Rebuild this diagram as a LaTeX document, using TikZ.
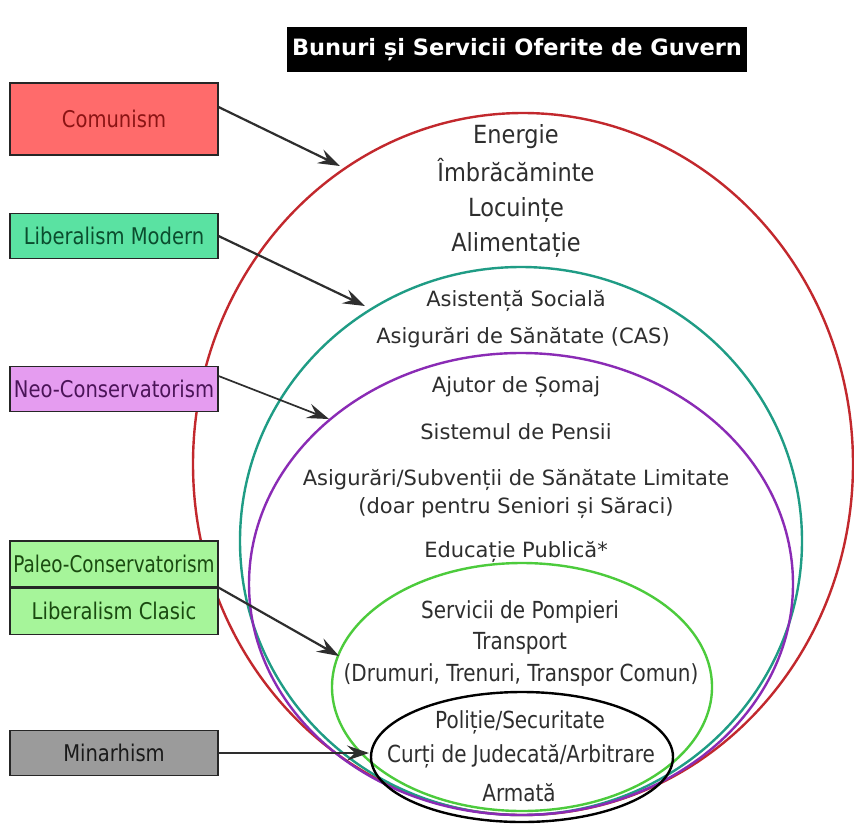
\documentclass[tikz,border=0pt]{standalone}
\usepackage{fontspec}
\setmainfont{DejaVu Sans}
\newfontfamily\condfont{DejaVu Sans}[FakeStretch=0.85]
\newfontfamily\semicondfont{DejaVu Sans}[FakeStretch=0.9]
\usetikzlibrary{arrows.meta}
\definecolor{redfill}{HTML}{FF6B6B}
\definecolor{redtext}{HTML}{8B1414}
\definecolor{tealfill}{HTML}{5AE2A2}
\definecolor{tealtext}{HTML}{0B4D2E}
\definecolor{violetfill}{HTML}{E59CF0}
\definecolor{violettext}{HTML}{4B1458}
\definecolor{greenfill}{HTML}{A6F59A}
\definecolor{greentext}{HTML}{1A4A10}
\definecolor{grayfill}{HTML}{9B9B9B}
\definecolor{graytext}{HTML}{1A1A1A}
\definecolor{ered}{HTML}{C2282D}
\definecolor{eteal}{HTML}{1F9C85}
\definecolor{epurple}{HTML}{8A2BB5}
\definecolor{egreen}{HTML}{4CCB3C}
\definecolor{arrowgray}{HTML}{2E2E2E}
\tikzset{
  labelbox/.style={draw=black!85, line width=1.1pt, minimum width=208pt, minimum height=45pt, inner sep=0pt, font=\condfont\fontsize{23}{26}\selectfont},
  pointer/.style={draw=arrowgray, line width=2.2pt, -{Stealth[length=22pt,width=15pt,inset=8pt]}},
  ring/.style={line width=2.4pt},
  bigtxt/.style={font=\semicondfont\fontsize{25}{28}\selectfont, text=black!82, inner sep=0pt, anchor=base},
  midtxt/.style={font=\fontsize{21}{25}\selectfont, text=black!82, inner sep=0pt, anchor=base},
  lowtxt/.style={font=\condfont\fontsize{23.5}{27}\selectfont, text=black!82, inner sep=0pt, anchor=base},
}
\begin{document}
\begin{tikzpicture}[x=1pt,y=-1pt]
\useasboundingbox (0,0) rectangle (854,823);
\fill[white] (0,0) rectangle (854,823);

% title
\node[fill=black, minimum width=460pt, minimum height=45pt, inner sep=0pt, text=white,
      font=\bfseries\fontsize{22.5}{26}\selectfont] (title) at (517,49.5) {Bunuri și Servicii Oferite de Guvern};

% ellipses
\draw[ered, ring] (523,464) ellipse [x radius=330, y radius=351];
\draw[eteal, ring] (521,541) ellipse [x radius=281, y radius=274];
\draw[epurple, ring] (521,584) ellipse [x radius=272, y radius=231];
\draw[egreen, ring] (522,687) ellipse [x radius=190, y radius=124];
\draw[black, ring] (522,757) ellipse [x radius=151, y radius=65];

% texts
\node[bigtxt] (t1) at (516,143) {Energie};
\node[bigtxt] (t2) at (516,181) {Îmbrăcăminte};
\node[bigtxt] (t3) at (516,216) {Locuințe};
\node[bigtxt] (t4) at (516,251) {Alimentație};
\node[midtxt] (t5) at (516,306) {Asistență Socială};
\node[midtxt] (t6) at (523,343) {Asigurări de Sănătate (CAS)};
\node[midtxt] (t7) at (516,392) {Ajutor de Șomaj};
\node[midtxt] (t8) at (516,439) {Sistemul de Pensii};
\node[midtxt] (t9) at (516,485) {Asigurări/Subvenții de Sănătate Limitate};
\node[midtxt] (t10) at (516,513) {(doar pentru Seniori și Săraci)};
\node[midtxt] (t11) at (516,557) {Educație Publică*};
\node[lowtxt] (t12) at (520,618) {Servicii de Pompieri};
\node[lowtxt] (t13) at (520,649) {Transport};
\node[lowtxt] (t14) at (521,681) {(Drumuri, Trenuri, Transpor Comun)};
\node[lowtxt] (t15) at (520,728) {Poliție/Securitate};
\node[lowtxt] (t16) at (521,762) {Curți de Judecată/Arbitrare};
\node[lowtxt] (t17) at (519,801) {Armată};

% boxes
\node[labelbox, fill=redfill, text=redtext, minimum height=72pt] (com) at (114,119) {Comunism};
\node[labelbox, fill=tealfill, text=tealtext] (libmod) at (114,236) {Liberalism Modern};
\node[labelbox, fill=violetfill, text=violettext] (neo) at (114,389) {Neo-Conservatorism};
\node[labelbox, fill=greenfill, text=greentext, minimum height=46pt] (paleo) at (114,564) {\addfontfeature{FakeStretch=0.8}Paleo-Conservatorism};
\node[labelbox, fill=greenfill, text=greentext, minimum height=46pt, anchor=north] (libcl) at (paleo.south) {Liberalism Clasic};
\node[labelbox, fill=grayfill, text=graytext] (min) at (114,753) {Minarhism};

% arrow targets
\coordinate (pcom) at (340,166);
\coordinate (plib) at (365,306);
\coordinate (pneo) at (329,419);
\coordinate (ppal) at (339,656);
\coordinate (pmin) at (369,753);

\draw[pointer] (com.east |- 0,107) -- (pcom);
\draw[pointer] (libmod.east) -- (plib);
\draw[pointer, line width=1.7pt] (neo.east |- 0,376) -- (pneo);
\draw[pointer] (paleo.south east) -- (ppal);
\draw[pointer] (min.east) -- (pmin);
\end{tikzpicture}
\end{document}
